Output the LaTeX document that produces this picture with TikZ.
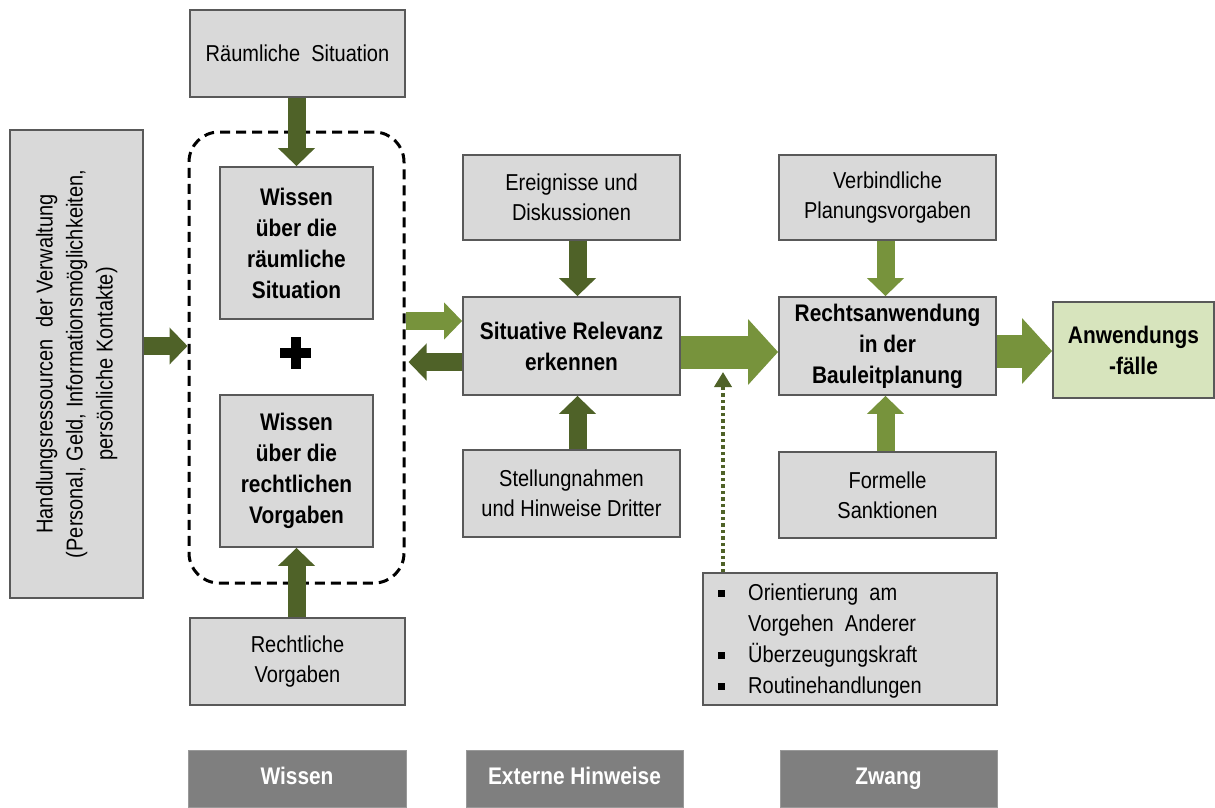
\documentclass[tikz,border=0pt]{standalone}
\usepackage{fontspec}
\setmainfont{Liberation Sans}[FakeStretch=0.87]
\usepackage{graphicx}
\usetikzlibrary{arrows.meta,calc}
\definecolor{dgreen}{HTML}{4F6228}
\definecolor{lgreen}{HTML}{77933C}
\definecolor{boxfill}{HTML}{D9D9D9}
\definecolor{boxline}{HTML}{595959}
\definecolor{anwfill}{HTML}{D7E4BD}
\definecolor{labfill}{HTML}{7F7F7F}
\tikzset{
  box/.style={draw=boxline, line width=1.8pt, fill=boxfill, inner sep=0pt, align=center,
    font=\fontsize{23}{30}\selectfont},
  bbox/.style={box, font=\fontsize{24}{31}\selectfont\bfseries},
  dashbox/.style={draw=black, line width=3pt, dash pattern=on 10pt off 6pt, rounded corners=30pt, inner sep=0pt},
  labbox/.style={fill=labfill, draw=labfill!80!white, line width=0.8pt, inner sep=0pt, text=white,
    text height=17pt, text depth=5pt, font=\fontsize{24}{26}\selectfont\bfseries},
  darrow/.style={draw=dgreen, line width=18pt, -{Triangle[length=18pt,width=36pt]}},
  larrow/.style={draw=lgreen, line width=18pt, -{Triangle[length=18pt,width=36pt]}},
  bigarrow/.style={draw=lgreen, line width=33pt, -{Triangle[length=30pt,width=64pt]}},
  dotarrow/.style={draw=dgreen, line width=4pt, dash pattern=on 3.5pt off 3pt, -{Triangle[length=15pt,width=17pt]}},
}
\newcommand{\bul}{\makebox[30pt][l]{\rule[3pt]{7pt}{7pt}}}
\begin{document}
\begin{tikzpicture}[x=1pt,y=-1pt]
\useasboundingbox (0,0) rectangle (1215,807);
% left resources box
\node[box, minimum width=133pt, minimum height=468pt] (res) at (76.5,364) {\rotatebox{90}{\begin{tabular}{@{}c@{}}Handlungsressourcen\ \ der Verwaltung\\(Personal,\ Geld,\ Informationsmöglichkeiten,\\persönliche\ Kontakte)\end{tabular}}};
% knowledge column
\node[box, minimum width=215pt, minimum height=87pt] (raum) at (297.5,53.5) {Räumliche\ \ Situation};
\node[dashbox, minimum width=215pt, minimum height=451pt] (wiss) at (296.5,357.5) {};
\node[bbox, minimum width=153pt, minimum height=152pt] (w1) at (296.5,243) {Wissen\\über die\\räumliche\\Situation};
\node[bbox, minimum width=153pt, minimum height=152pt] (w2) at (296.5,471) {Wissen\\über die\\rechtlichen\\Vorgaben};
\node[box, minimum width=215pt, minimum height=87pt] (recht) at (297.5,661.5) {Rechtliche\\Vorgaben};
\fill (280,348) rectangle (311,358);
\fill (290.5,337) rectangle (300.5,369);
% external hints column
\node[box, minimum width=217pt, minimum height=85pt] (ereig) at (571.5,197.5) {Ereignisse und\\Diskussionen};
\node[bbox, minimum width=217pt, minimum height=98pt] (sit) at (571.5,346) {Situative Relevanz\\erkennen};
\node[box, minimum width=217pt, minimum height=87pt] (stell) at (571.5,493.5) {Stellungnahmen\\und Hinweise Dritter};
% coercion column
\node[box, minimum width=217pt, minimum height=85pt] (verb) at (887.5,197.5) {Verbindliche\\Planungsvorgaben};
\node[bbox, minimum width=217pt, minimum height=98pt] (rechts) at (887.5,346) {Rechtsanwendung\\in der\\Bauleitplanung};
\node[box, minimum width=217pt, minimum height=86pt] (form) at (887.5,495) {Formelle\\Sanktionen};
\node[box, minimum width=294pt, minimum height=132pt] (bul) at (850,639) {};
\node[anchor=west, align=left, inner sep=0pt, font=\fontsize{23}{31}\selectfont] (bultext) at (718,641)
  {\bul Orientierung\ \ am\\\hspace*{30pt}Vorgehen\ \ Anderer\\\bul Überzeugungskraft\\\bul Routinehandlungen};
\node[bbox, fill=anwfill, minimum width=161pt, minimum height=96pt] (anw) at (1133.5,350) {Anwendungs\\-fälle};
% bottom labels
\node[labbox, minimum width=218pt, minimum height=57pt] (lw) at (297,778.5) {Wissen};
\node[labbox, minimum width=217pt, minimum height=57pt] (le) at (574.5,778.5) {Externe Hinweise};
\node[labbox, minimum width=217pt, minimum height=57pt] (lz) at (888.5,778.5) {Zwang};
% arrows
\draw[darrow] (raum.south -| w1.north) -- (w1.north);
\draw[darrow] (recht.north -| w2.south) -- (w2.south);
\draw[darrow] (res.east |- 0,346) -- (wiss.west |- 0,346);
\draw[larrow] (wiss.east |- 0,321) -- (sit.west |- 0,321);
\draw[darrow] (sit.west |- 0,362) -- ([xshift=3pt]wiss.east |- 0,362);
\draw[darrow] ([xshift=6pt]ereig.south) -- ([xshift=6pt]sit.north);
\draw[darrow] ([xshift=6pt]stell.north) -- ([xshift=6pt]sit.south);
\draw[bigarrow] (sit.east |- 0,352) -- (rechts.west |- 0,352);
\draw[larrow] ([xshift=-2pt]verb.south) -- ([xshift=-2pt]rechts.north);
\draw[larrow] ([xshift=-2pt]form.north) -- ([xshift=-2pt]rechts.south);
\draw[bigarrow] (rechts.east |- 0,351) -- (anw.west |- 0,351);
\coordinate (dt) at (723,372);
\draw[dotarrow] (bul.north -| dt) -- (dt);
\end{tikzpicture}
\end{document}
